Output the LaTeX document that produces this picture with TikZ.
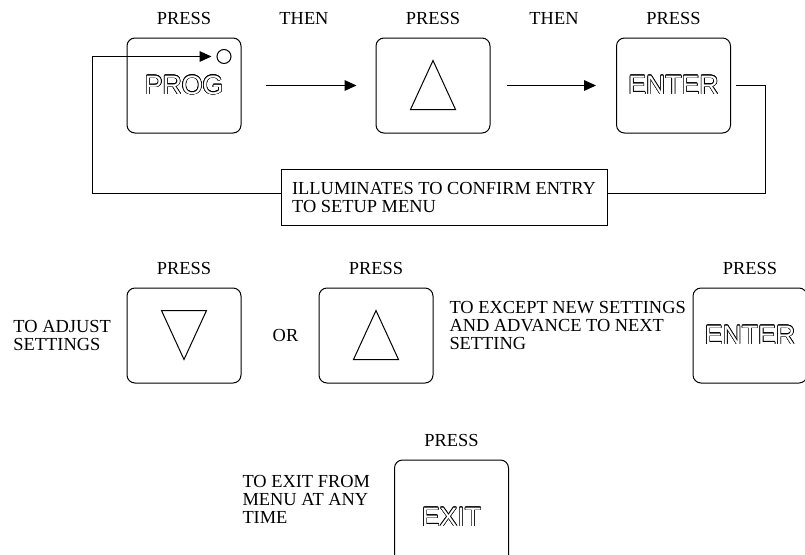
\documentclass[tikz,border=0pt]{standalone}
\usepackage{fontspec}
\setmainfont{Liberation Serif}
\newfontfamily\keyfont{Liberation Sans}
\usepackage{contour}
\contourlength{0.45pt}
\usetikzlibrary{positioning,arrows.meta}

\newcommand{\keytext}[1]{{\keyfont\fontsize{20}{20}\selectfont\contour{black}{\textcolor{white}{#1}}}}

\tikzset{every picture/.style={line width=0.75pt}}
\tikzset{
  keybox/.style={draw, rounded corners=6pt, minimum width=85.5pt, minimum height=71.25pt, inner sep=0pt},
  lbl/.style={inner sep=0.75pt, font=\fontsize{13.8}{13.5}\selectfont},
  txt/.style={lbl, align=left},
  arr/.style={-{Triangle[length=9pt,width=8pt]}},
  % y axis points down, so the signs are as on screen
  uptri/.pic={\draw (0,25) -- (22.5,-24) -- (-22.5,-24) -- cycle;},
  downtri/.pic={\draw (-22.5,25) -- (22.5,25) -- (0,-24) -- cycle;}
}

\begin{document}
\begin{tikzpicture}[x=0.75pt,y=0.75pt,yscale=-1,xscale=1]
\useasboundingbox (0,0) rectangle (805,554);

% keys, top row
\node[keybox] (prog) at (184,85.5) {\keytext{PROG}};
\node[keybox] (up1) at (433,85.5) {};
\node[keybox] (enter1) at (673.5,85.5) {\keytext{ENTER}};
\pic at (up1) {uptri};
\node[draw, circle, minimum size=10.5pt, inner sep=0pt] (lamp) at (224,56.5) {};

% labels, top row
\node[lbl, above=8.5pt of prog] (press1) {PRESS};
\node[lbl, above=8.5pt of up1] (press2) {PRESS};
\node[lbl, above=8.5pt of enter1] (press3) {PRESS};
\node[lbl] (then1) at (304,18.5) {THEN};
\node[lbl] (then2) at (554,18.5) {THEN};

% arrows
\draw[arr] ([xshift=18pt]prog.east) -- ([xshift=-14.25pt]up1.west);
\draw[arr] ([xshift=12pt]up1.east) -- ([xshift=-15pt]enter1.west);

% confirm box and loop
\node[draw, txt, minimum width=244.5pt, minimum height=42pt] (msg) at (444,197)
  {ILLUMINATES TO CONFIRM ENTRY\\TO SETUP MENU};
\coordinate (loopR) at (765,193);
\coordinate (loopL) at (92,193);
\draw ([xshift=3.75pt]enter1.east) -| (loopR) -- (msg.east |- loopR);
\draw[arr] (msg.west |- loopL) -- (loopL) |- ([xshift=-3.75pt]lamp.west);

% keys, middle row
\node[keybox] (down) at (184,335.5) {};
\node[keybox] (up2) at (376,335.5) {};
\node[keybox] (enter2) at (750,335.5) {\keytext{ENTER}};
\pic at (down) {downtri};
\pic at (up2) {uptri};

\node[lbl, above=8.5pt of down] (press4) {PRESS};
\node[lbl, above=8.5pt of up2] (press5) {PRESS};
\node[lbl, above=8.5pt of enter2] (press6) {PRESS};
\node[txt, anchor=north west] (adjust) at (12,319) {TO ADJUST\\SETTINGS};
\node[lbl] (or) at (285.5,335.5) {OR};
\node[txt, anchor=north west] (accept) at (448,300) {TO EXCEPT NEW SETTINGS\\AND ADVANCE TO NEXT\\SETTING};

% exit key
\node[keybox, minimum height=86.25pt] (exit) at (451.5,517.5) {\keytext{EXIT}};
\node[lbl, above=8.5pt of exit] (press7) {PRESS};
\node[txt, anchor=north west] (exittxt) at (241,474) {TO EXIT FROM\\MENU AT ANY\\TIME};
\end{tikzpicture}
\end{document}
